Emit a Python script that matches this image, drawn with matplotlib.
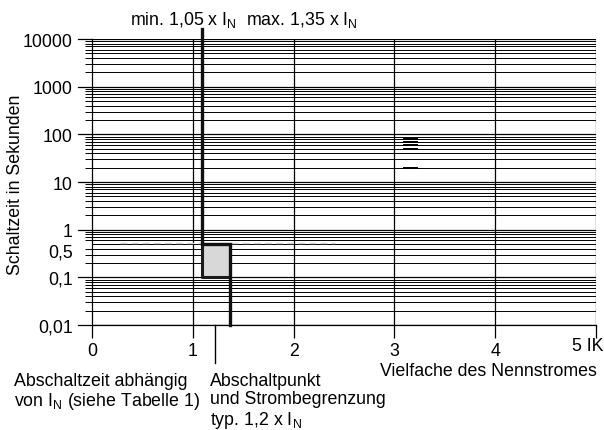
import numpy as np
import matplotlib.pyplot as plt
from matplotlib.ticker import FixedLocator, NullFormatter
from matplotlib.transforms import ScaledTranslation

plt.rcParams['font.family'] = ['Liberation Sans', 'DejaVu Sans']

# x ticks (Vielfache des Nennstromes)
x_ticks = [0, 1, 2, 3, 4, 5]
x_labels = ["0", "1", "2", "3", "4", ""]
# y ticks (Schaltzeit in Sekunden)
y_ticks = [0.01, 0.1, 0.5, 1, 10, 100, 1000, 10000]
y_labels = ["0,01", "0,1", "0,5", "1", "10", "100", "1000", "10000"]

# tripping curve: min / max
curve_x = [1.09, 1.09, 1.37, 1.37]
curve_y = [16000, 0.5, 0.5, 0.01]
# shaded box (Abschaltzeit abhaengig von I_N)
box_x = [1.09, 1.37]
box_y = [0.1, 0.5]
# short bold marks near x = 3.15
mark_x = [3.1, 3.22]
mark_y = [20, 50, 60, 70, 80]

fs = 12.8

fig = plt.figure(figsize=(6.04, 4.31), dpi=100)
ax = fig.add_axes([0.1523, 0.2436, 0.8345, 0.6634])
ax.set_yscale('log')
ax.set_xlim(0, 5)
ax.set_ylim(0.01, 10000)

# grid: horizontal log lines
minors = [m * 10.0 ** e for e in range(-2, 4) for m in range(2, 10)]
for v in minors:
    ax.axhline(v, color='black', lw=0.7, zorder=1)
for e in range(-2, 5):
    ax.axhline(10.0 ** e, color='black', lw=0.9, zorder=1)
for xv in x_ticks[1:]:
    ax.axvline(xv, color='black', lw=0.9, zorder=1)

# light dashed line near 0.5 s
ax.plot([0.28, 2.41], [0.53, 0.53], color='#d0d0d0', lw=1.0, ls=(0, (5, 3)), zorder=2)

ax.fill_between(box_x, box_y[0], box_y[1], color='#d8d8d8', zorder=3)
ax.plot([box_x[0], box_x[0], box_x[1]], [box_y[1], box_y[0], box_y[0]],
        color='#1a1a1a', lw=2.2, zorder=4)
ax.plot(curve_x, curve_y, color='#111111', lw=2.4, zorder=5, clip_on=False,
        solid_joinstyle='miter')

for v in mark_y:
    ax.plot(mark_x, [v, v], color='black', lw=1.4, zorder=4)

# pointer to Abschaltpunkt
ax.plot([1.22, 1.22], [0.01, 0.0016], color='black', lw=1.0, clip_on=False)

ax.set_xticks(x_ticks)
ax.set_xticklabels(x_labels, fontsize=fs)
ax.set_yticks(y_ticks)
ax.set_yticklabels(y_labels, fontsize=fs)
ax.yaxis.set_minor_locator(FixedLocator(minors))
ax.yaxis.set_minor_formatter(NullFormatter())
ax.tick_params(axis='x', direction='out', length=9, width=0.9, pad=3)
ax.tick_params(axis='y', which='major', direction='out', length=0, pad=14)
ax.tick_params(axis='y', which='minor', direction='out', length=5, width=0.7)
for s in ['top', 'right']:
    ax.spines[s].set_visible(False)
ax.spines['left'].set_linewidth(0.9)
ax.spines['bottom'].set_linewidth(0.9)

# nudge "0,5" down a little so it clears "1"
lab05 = ax.get_yticklabels()[2]
lab05.set_transform(lab05.get_transform() + ScaledTranslation(0, -4 / 72, fig.dpi_scale_trans))

# major y ticks drawn separately so 0,5 has no tick
for v in [0.01, 0.1, 1, 10, 100, 1000, 10000]:
    ax.plot([-0.14, 0], [v, v], color='black', lw=0.9, clip_on=False)

fig.text(16 / 604, 1 - 185 / 431, "Schaltzeit in Sekunden", rotation=90,
         fontsize=fs, ha='center', va='center')

ax.text(5.07, 0.0038, "5 IK", ha='right', va='center', fontsize=fs)

fig.text(130 / 604, 1 - 20 / 431,
         "min. 1,05 x I$_\\mathregular{N}$  max. 1,35 x I$_\\mathregular{N}$",
         fontsize=fs, va='center', ha='left')
fig.text(14 / 604, 1 - 373 / 431,
         "Abschaltzeit abhängig\nvon I$_\\mathregular{N}$ (siehe Tabelle 1)",
         fontsize=fs, va='top', ha='left', linespacing=1.1)
fig.text(210 / 604, 1 - 373 / 431,
         "Abschaltpunkt\nund Strombegrenzung\ntyp. 1,2 x I$_\\mathregular{N}$",
         fontsize=fs, va='top', ha='left', linespacing=1.1)
fig.text(597 / 604, 1 - 372 / 431, "Vielfache des Nennstromes",
         fontsize=fs, va='center', ha='right')

plt.savefig("out.png", dpi=100)
